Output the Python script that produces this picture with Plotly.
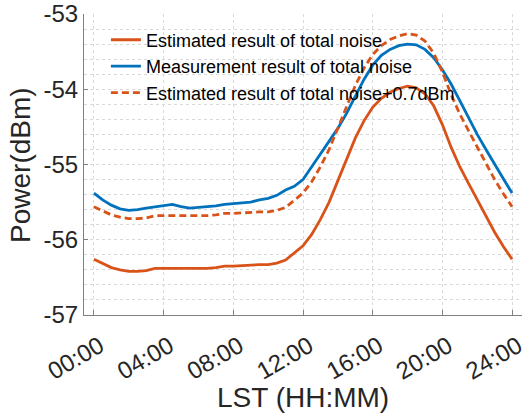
import plotly.graph_objects as go

# Local sidereal time of each sample, in hours
lst_hours = [0.0, 0.5, 1.0, 1.5, 2.0, 2.5, 3.0, 3.5, 4.0, 4.5, 5.0, 5.5, 6.0, 6.5,
             7.0, 7.5, 8.0, 8.5, 9.0, 9.5, 10.0, 10.5, 11.0, 11.5, 12.0, 12.5,
             13.0, 13.5, 14.0, 14.5, 15.0, 15.5, 16.0, 16.5, 17.0, 17.5, 18.0,
             18.5, 19.0, 19.5, 20.0, 20.5, 21.0, 21.5, 22.0, 22.5, 23.0, 23.5, 24.0]

# Estimated total noise power (dBm)
estimated_dbm = [-56.26, -56.32, -56.37, -56.40, -56.42, -56.42, -56.41, -56.38,
                 -56.38, -56.38, -56.39, -56.39, -56.39, -56.38, -56.37, -56.35,
                 -56.35, -56.34, -56.33, -56.33, -56.33, -56.31, -56.27, -56.18,
                 -56.08, -55.93, -55.73, -55.50, -55.22, -54.93, -54.65, -54.42,
                 -54.24, -54.12, -54.04, -53.99, -53.96, -53.98, -54.06, -54.22,
                 -54.47, -54.77, -55.03, -55.25, -55.47, -55.69, -55.90, -56.09,
                 -56.26]

# Measured total noise power (dBm)
measured_dbm = [-55.38, -55.47, -55.54, -55.59, -55.61, -55.60, -55.58, -55.56,
                -55.55, -55.53, -55.56, -55.58, -55.57, -55.56, -55.55, -55.53,
                -55.52, -55.51, -55.50, -55.47, -55.45, -55.41, -55.34, -55.29,
                -55.20, -55.03, -54.86, -54.70, -54.52, -54.32, -54.10, -53.87,
                -53.68, -53.55, -53.47, -53.42, -53.40, -53.41, -53.47, -53.58,
                -53.74, -53.93, -54.15, -54.38, -54.60, -54.80, -55.00, -55.19,
                -55.38]

# Offset applied to the estimate (dB)
offset_db = 0.7
estimated_offset_dbm = [v + offset_db for v in estimated_dbm]

x_tick_vals = [0, 4, 8, 12, 16, 20, 24]
x_tick_text = ["00:00", "04:00", "08:00", "12:00", "16:00", "20:00", "24:00"]
y_tick_vals = [-57, -56, -55, -54, -53]
y_tick_text = ["-57", "-56", "-55", "-54", "-53"]

ORANGE = "#D95319"
BLUE = "#0072BD"
FONT = "Liberation Sans, Arial, sans-serif"
TEXT = "#262626"
AXIS = "#808080"
GRID = "#d9d9d9"

fig = go.Figure()
fig.add_trace(go.Scatter(x=lst_hours, y=estimated_dbm, mode="lines",
                         name="Estimated result of total noise",
                         line=dict(color=ORANGE, width=2.8)))
fig.add_trace(go.Scatter(x=lst_hours, y=measured_dbm, mode="lines",
                         name="Measurement result of total noise",
                         line=dict(color=BLUE, width=2.8)))
fig.add_trace(go.Scatter(x=lst_hours, y=estimated_offset_dbm, mode="lines",
                         name="Estimated result of total noise+0.7dBm",
                         line=dict(color=ORANGE, width=2.8, dash="7px,4px")))

fig.update_layout(
    width=526, height=418,
    margin=dict(l=84, r=0, t=13, b=103),
    paper_bgcolor="white", plot_bgcolor="white",
    font=dict(family=FONT, color=TEXT),
    legend=dict(x=0.05, y=0.975, xanchor="left", yanchor="top",
                bgcolor="rgba(0,0,0,0)", font=dict(size=18, color="black"),
                tracegroupgap=0, itemwidth=30),
    xaxis=dict(range=[-0.57, 24.57], tickvals=x_tick_vals, ticktext=x_tick_text,
               tickangle=-30, tickfont=dict(size=24, color=TEXT),
               ticklabelstandoff=7, ticklabelshift=6, ticklabeloverflow="allow",
               ticks="inside", ticklen=5, tickcolor=AXIS,
               showline=True, linecolor=AXIS, linewidth=1,
               showgrid=True, gridcolor=GRID, griddash="dot", zeroline=False),
    yaxis=dict(range=[-57, -53], tickvals=y_tick_vals, ticktext=y_tick_text,
               tickfont=dict(size=24, color=TEXT), ticklabeloverflow="allow",
               ticks="inside", ticklen=4, tickcolor=AXIS,
               showline=True, linecolor=AXIS, linewidth=1,
               showgrid=True, gridcolor=GRID, griddash="dot", zeroline=False,
               minor=dict(dtick=0.2, tick0=-57, showgrid=True, gridcolor=GRID,
                          griddash="dot", ticks="")),
    annotations=[
        dict(text="LST (HH:MM)", xref="paper", yref="paper",
             x=0.501, y=-0.275, xanchor="center", yanchor="middle",
             showarrow=False, font=dict(size=28, color=TEXT)),
        dict(text="Power(dBm)", xref="paper", yref="paper",
             x=-0.145, y=0.5, xanchor="center", yanchor="middle",
             textangle=-90, showarrow=False, font=dict(size=28, color=TEXT)),
    ],
)

fig.write_html("out.html")
